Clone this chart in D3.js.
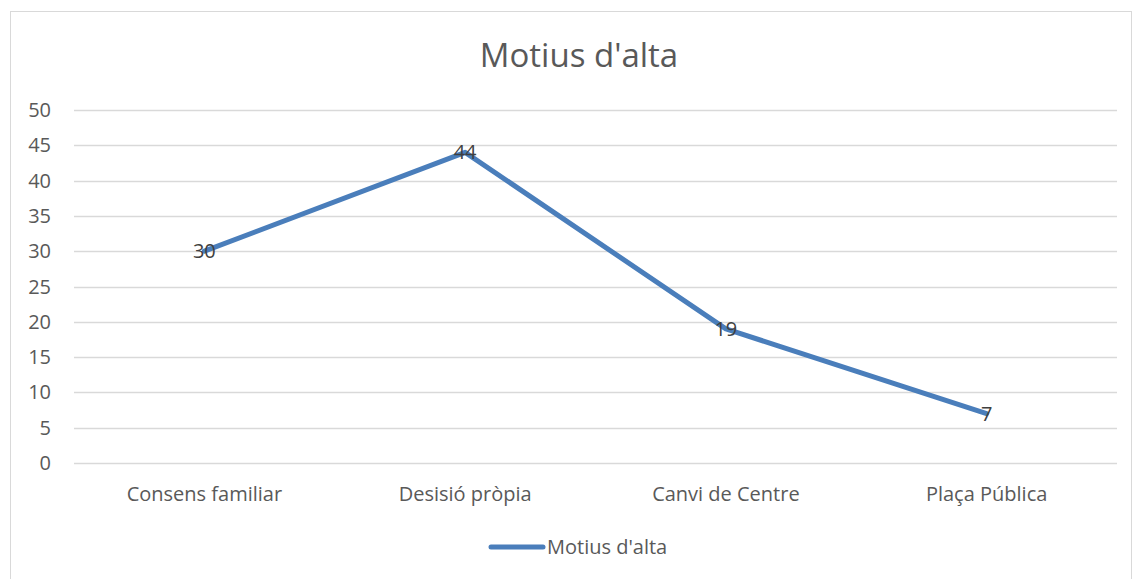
<!DOCTYPE html>
<html>
<head>
<meta charset="utf-8">
<script src="https://cdn.jsdelivr.net/npm/d3@7"></script>
<style>
  body { margin: 0; background: #fff; }
  svg { display: block; font-family: "Open Sans", sans-serif; }
</style>
</head>
<body>
<svg id="chart" width="1133" height="579"></svg>
<script>
const categories = ["Consens familiar", "Desisió pròpia", "Canvi de Centre", "Plaça Pública"];
const values = [30, 44, 19, 7];
const yTicks = [0, 5, 10, 15, 20, 25, 30, 35, 40, 45, 50];
const seriesName = "Motius d'alta";

const W = 1133, H = 579;
const m = { l: 74, r: 16, t: 110, b: 116 };
const lineColor = "#4a7ebb";
const textColor = "#595959";
const labelSize = 20;

const svg = d3.select("#chart");

svg.append("rect")
  .attr("x", 10.5).attr("y", 11.5)
  .attr("width", W - 12).attr("height", H)
  .attr("fill", "#fff")
  .attr("stroke", "#d9d9d9");

const x = d3.scaleBand().domain(categories).range([m.l, W - m.r]);
const y = d3.scaleLinear().domain([0, 50]).range([H - m.b, m.t]);

// gridlines
svg.append("g")
  .selectAll("line")
  .data(yTicks)
  .join("line")
  .attr("x1", m.l).attr("x2", W - m.r)
  .attr("y1", d => Math.round(y(d)) + 0.5)
  .attr("y2", d => Math.round(y(d)) + 0.5)
  .attr("stroke", "#d9d9d9")
  .attr("stroke-width", 1.3);

// y labels
svg.append("g")
  .selectAll("text")
  .data(yTicks)
  .join("text")
  .attr("x", 51)
  .attr("y", d => y(d))
  .attr("dy", "0.35em")
  .attr("text-anchor", "end")
  .attr("fill", textColor)
  .attr("font-size", labelSize)
  .text(d => d);

// x labels
svg.append("g")
  .selectAll("text")
  .data(categories)
  .join("text")
  .attr("x", d => x(d) + x.bandwidth() / 2)
  .attr("y", H - m.b + 38)
  .attr("text-anchor", "middle")
  .attr("fill", textColor)
  .attr("font-size", labelSize)
  .text(d => d);

const pts = categories.map((c, i) => ({ c, v: values[i] }));

const line = d3.line()
  .x(d => x(d.c) + x.bandwidth() / 2)
  .y(d => y(d.v));

svg.append("path")
  .datum(pts)
  .attr("fill", "none")
  .attr("stroke", lineColor)
  .attr("stroke-width", 5)
  .attr("stroke-linejoin", "round")
  .attr("stroke-linecap", "round")
  .attr("d", line);

// data labels
svg.append("g")
  .selectAll("text")
  .data(pts)
  .join("text")
  .attr("x", d => x(d.c) + x.bandwidth() / 2)
  .attr("y", d => y(d.v))
  .attr("dy", "0.35em")
  .attr("text-anchor", "middle")
  .attr("fill", "#404040")
  .attr("font-size", labelSize)
  .text(d => d.v);

// title
svg.append("text")
  .attr("x", 579)
  .attr("y", 67)
  .attr("text-anchor", "middle")
  .attr("fill", textColor)
  .attr("font-size", 33)
  .text(seriesName);

// legend
const lg = svg.append("g");
lg.append("line")
  .attr("x1", 491).attr("x2", 543)
  .attr("y1", 547).attr("y2", 547)
  .attr("stroke", lineColor)
  .attr("stroke-width", 5)
  .attr("stroke-linecap", "round");
lg.append("text")
  .attr("x", 547)
  .attr("y", 547)
  .attr("dy", "0.35em")
  .attr("fill", textColor)
  .attr("font-size", labelSize)
  .text(seriesName);
</script>
</body>
</html>
